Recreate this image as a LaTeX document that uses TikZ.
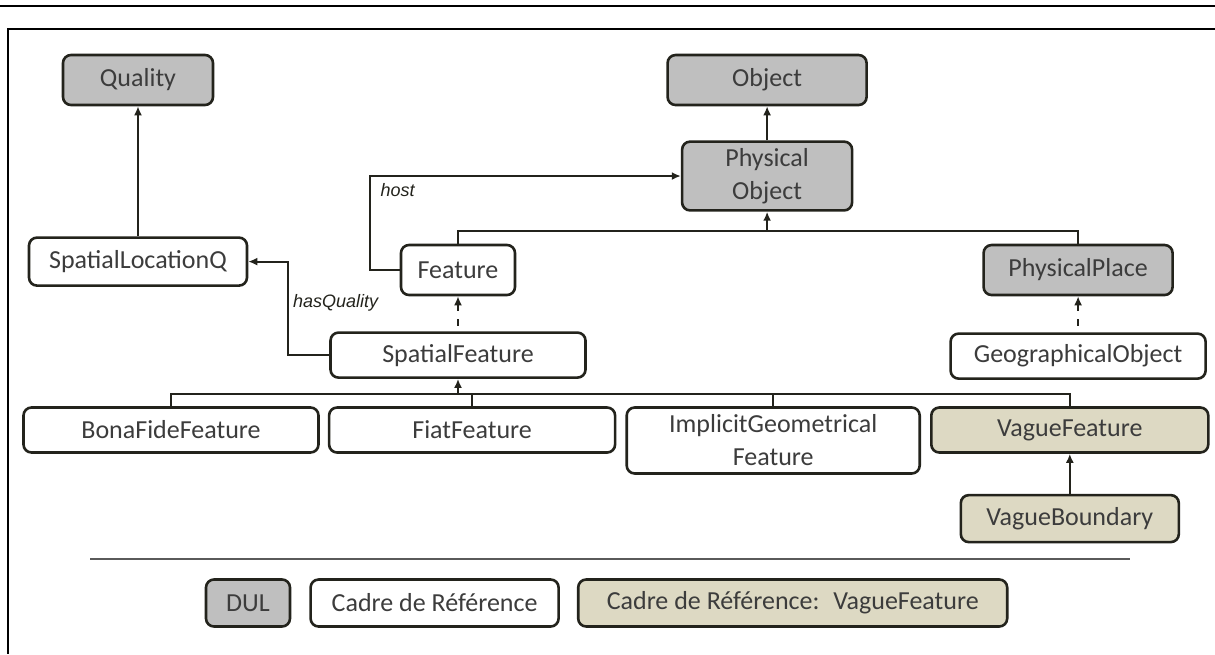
\documentclass[tikz,border=0pt]{standalone}
\usepackage{fontspec}
\setmainfont{Carlito}
\newfontfamily\lblfont{Liberation Sans}
\usetikzlibrary{arrows.meta, positioning, calc}
\definecolor{colDUL}{RGB}{191,191,191}
\definecolor{colVague}{RGB}{221,217,195}
\definecolor{colBorder}{RGB}{35,35,28}
\definecolor{colText}{RGB}{60,60,60}
\definecolor{colRule}{RGB}{90,90,90}

\begin{document}
\begin{tikzpicture}[
            x=0.5pt, y=-0.5pt,
            font=\fontsize{13}{16.5}\selectfont,
            box/.style={rectangle, rounded corners=4pt, minimum height=22.5pt, text centered, align=center, draw=colBorder, line width=1.3pt, text=colText, fill=white},
            arrow/.style={-{Latex[length=4.5pt,width=4pt]}, line width=1pt, draw=colBorder},
            link/.style={line width=1pt, draw=colBorder},
            darrow/.style={{Latex[length=4.5pt,width=4pt]}-, line width=1pt, draw=colBorder, dash pattern=on 3.5pt off 4pt},
            lbl/.style={font=\lblfont\itshape\fontsize{9}{10}\selectfont, text=colBorder, inner sep=1pt}
        ]

        \useasboundingbox (0,0) rectangle (1215,654);

        %% ── CADRE ──────────────────────────
        \draw[line width=1.2pt] (0,6) -- (1215,6);
        \draw[line width=1.2pt] (1215,29) -- (7.7,29) -- (7.7,654);

        %% ── NIVEAU 1 : DUL ──────────────────────────
        \node[box, fill=colDUL, minimum width=75pt, minimum height=25pt] (quality) at (138,80) {Quality};
        \node[box, fill=colDUL, minimum width=99.5pt, minimum height=25pt, right=226pt of quality] (object) {Object};
        \node[box, fill=colDUL, minimum width=85pt, minimum height=33pt, below=17pt of object] (physobj) {Physical\\Object};

        \node[box, minimum width=109pt, minimum height=24pt, below=65pt of quality] (slq) {SpatialLocationQ};

        %% ── NIVEAU 2 : Feature / PhysicalPlace ──────────────────────────
        \node[box, minimum width=57pt, minimum height=25pt] (feature) at (458,270) {Feature};
        \node[box, fill=colDUL, minimum width=94.5pt, minimum height=25pt, right=233pt of feature] (physplace) {PhysicalPlace};

        \node[box, minimum width=127.5pt, below=17.5pt of feature] (spatfeat) {SpatialFeature};
        \node[box, minimum width=127.5pt, minimum height=22.5pt, below=18pt of physplace] (geoobj) {GeographicalObject};

        %% ── NIVEAU 3 : sous-classes ──────────────────────────
        \node[box, minimum width=147.5pt] (bonafide) at (171,430) {BonaFideFeature};
        \node[box, minimum width=143pt, right=4pt of bonafide] (fiat) {FiatFeature};
        \node[box, minimum width=146.5pt, minimum height=33pt, right=4.5pt of fiat.north east, anchor=north west] (implicit) {ImplicitGeometrical\\Feature};
        \node[box, fill=colVague, minimum width=138.5pt, right=4.5pt of implicit.north east, anchor=north west] (vague) {VagueFeature};
        \node[box, fill=colVague, minimum width=109pt, minimum height=23.5pt, below=20pt of vague] (vbound) {VagueBoundary};

        %% ── FLÈCHES ──────────────────────────
        \draw[arrow] (slq) -- (quality);
        \draw[arrow] (physobj) -- (object);
        \draw[arrow] (vbound) -- (vague);

        \draw[arrow] (feature.west) -- ++(-15pt,0) |- node[lbl, pos=0.5, anchor=north west, xshift=4pt, yshift=-2pt] {host} (physobj.west);
        \draw[arrow] (spatfeat.west) -- ++(-20.5pt,0) |- node[lbl, pos=0.28, right, xshift=1pt] {hasQuality} (slq.east);

        \coordinate (topbus) at ($(physobj.south)+(0,-9.5pt)$);
        \draw[link] (feature.north) |- (topbus) -| (physplace.north);
        \draw[arrow] (topbus) -- (physobj.south);

        \coordinate (lowbus) at ($(spatfeat.south)+(0,-7.5pt)$);
        \draw[link] (bonafide.north) |- (lowbus) -| (vague.north);
        \draw[link] (fiat.north) -- (fiat.north |- lowbus);
        \draw[link] (implicit.north) -- (implicit.north |- lowbus);
        \draw[arrow] (lowbus) -- (spatfeat.south);

        \draw[darrow] (feature.south) -- (spatfeat.north);
        \draw[darrow] (physplace.south) -- (geoobj.north);

        %% ── LÉGENDE ──────────────────────────
        \draw[colRule, line width=0.8pt] (90,559) -- (1130,559);

        \node[box, fill=colDUL, minimum width=42pt, minimum height=23.5pt] (legdul) at (248,603) {DUL};
        \node[box, minimum width=124pt, minimum height=23.5pt, right=9pt of legdul] (legcadre) {Cadre de Référence};
        \node[box, fill=colVague, minimum width=214.5pt, minimum height=23.5pt, right=8.5pt of legcadre] (legvague) {Cadre de Référence:~ VagueFeature};

\end{tikzpicture}
\end{document}
